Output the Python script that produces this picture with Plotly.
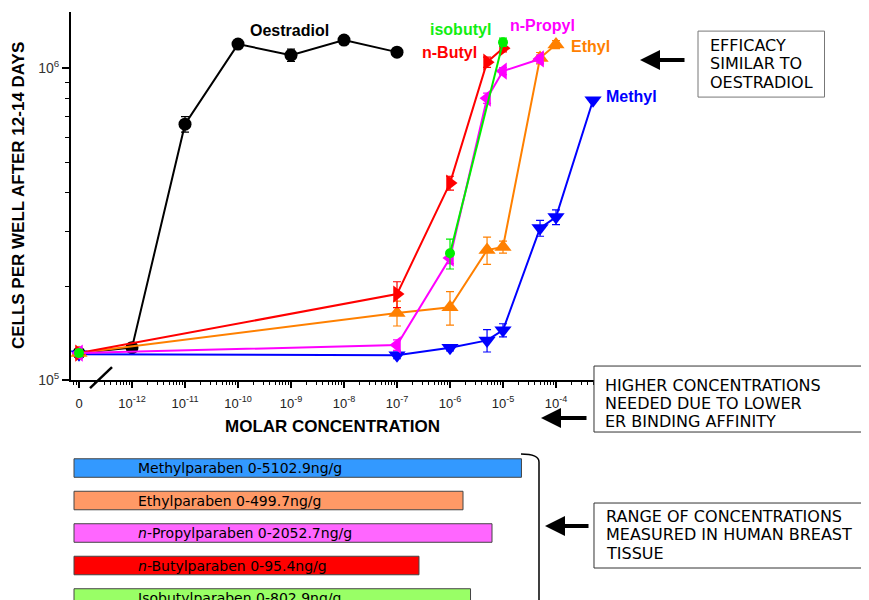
import plotly.graph_objects as go

W, H = 869, 600
PAGE_OFF = 8          # page margin around the figure
PAGE_H = H + PAGE_OFF  # photographed page height (scaled into the 600px picture)


def px(x):
    return (x - PAGE_OFF) / W


def sy(y):
    return y * PAGE_H / H - PAGE_OFF


def py(y):
    return 1 - sy(y) / H


ZERO = 1e-13  # axis position that stands for the "0" (vehicle) dose

# ---------------- data ----------------
x_tick_vals = [1e-13, 1e-12, 1e-11, 1e-10, 1e-9, 1e-8, 1e-7, 1e-6, 1e-5, 1e-4]
x_tick_text = ["0", "10<sup>-12</sup>", "10<sup>-11</sup>", "10<sup>-10</sup>", "10<sup>-9</sup>",
               "10<sup>-8</sup>", "10<sup>-7</sup>", "10<sup>-6</sup>", "10<sup>-5</sup>", "10<sup>-4</sup>"]
y_tick_vals = [1e5, 1e6]
y_tick_text = ["10<sup>5</sup>", "10<sup>6</sup>"]

oest_x = [ZERO, 1e-12, 1e-11, 1e-10, 1e-9, 1e-8, 1e-7]
oest_y = [1.22e5, 1.27e5, 6.61e5, 1.194e6, 1.10e6, 1.23e6, 1.125e6]
oest_err = [3e3, 4e3, 3.8e4, 2.5e4, 5e4, 2e4, 2e4]

methyl_x = [ZERO, 1e-7, 1e-6, 5e-6, 1e-5, 5e-5, 1e-4, 5e-4]
methyl_y = [1.21e5, 1.20e5, 1.27e5, 1.34e5, 1.445e5, 3.07e5, 3.33e5, 7.89e5]
methyl_err = [3e3, 3e3, 3e3, 1.1e4, 7e3, 1.8e4, 1.8e4, 1e4]

ethyl_x = [ZERO, 1e-7, 1e-6, 5e-6, 1e-5, 5e-5, 1e-4]
ethyl_y = [1.22e5, 1.64e5, 1.71e5, 2.61e5, 2.67e5, 1.077e6, 1.19e6]
ethyl_err = [3e3, 1.5e4, 2.1e4, 2.6e4, 1.2e4, 4.5e4, 3.5e4]

propyl_x = [ZERO, 1e-7, 1e-6, 5e-6, 1e-5, 5e-5]
propyl_y = [1.22e5, 1.295e5, 2.46e5, 8.01e5, 9.78e5, 1.07e6]
propyl_err = [3e3, 5e3, 1e4, 3e4, 2.5e4, 3e4]

butyl_x = [ZERO, 1e-7, 1e-6, 5e-6, 1e-5]
butyl_y = [1.22e5, 1.886e5, 4.28e5, 1.045e6, 1.158e6]
butyl_err = [3e3, 1.8e4, 2.2e4, 4e4, 3e4]

isobutyl_x = [ZERO, 1e-6, 1e-5]
isobutyl_y = [1.22e5, 2.55e5, 1.21e6]
isobutyl_err = [3e3, 2.8e4, 3.7e4]

# tissue concentration ranges (molar equivalents on the same x axis)
bar_names = ["Methylparaben", "Ethylparaben", "n-Propylparaben", "n-Butylparaben", "Isobutylparaben"]
bar_labels = ["Methylparaben 0-5102.9ng/g", "Ethylparaben 0-499.7ng/g",
              "<i>n</i>-Propylparaben 0-2052.7ng/g", "<i>n</i>-Butylparaben 0-95.4ng/g",
              "Isobutylparaben 0-802.9ng/g"]
bar_start = 8.05e-14
bar_end = [2.23e-5, 1.76e-6, 6.2e-6, 2.6e-7, 2.44e-6]
bar_colors = ["#3399ff", "#ff9966", "#ff66ff", "#ff0000", "#99ff66"]

# ---------------- figure ----------------
fig = go.Figure()


def add_series(xs, ys, err, color, symbol, size, line_from=0):
    if line_from > 0:
        fig.add_trace(go.Scatter(
            x=xs[line_from:], y=ys[line_from:], mode="lines",
            line=dict(color=color, width=2), showlegend=False, hoverinfo="skip",
            xaxis="x", yaxis="y"))
    fig.add_trace(go.Scatter(
        x=xs, y=ys, mode="markers" if line_from > 0 else "lines+markers",
        line=dict(color=color, width=2),
        marker=dict(symbol=symbol, size=size, color=color, line=dict(width=0)),
        error_y=dict(type="data", array=err, color=color, thickness=1.2, width=4, visible=True),
        showlegend=False, xaxis="x", yaxis="y", cliponaxis=False,
    ))


add_series(oest_x, oest_y, oest_err, "#000000", "circle", 13)
add_series(methyl_x, methyl_y, methyl_err, "#0000ff", "triangle-down", 15)
add_series(ethyl_x, ethyl_y, ethyl_err, "#ff8000", "triangle-up", 15)
add_series(butyl_x, butyl_y, butyl_err, "#ff0000", "triangle-right", 15)
add_series(propyl_x, propyl_y, propyl_err, "#ff00ff", "triangle-left", 15)
add_series(isobutyl_x, isobutyl_y, isobutyl_err, "#00ee00", "circle", 10, line_from=1)

fig.add_trace(go.Bar(
    orientation="h", y=bar_names, x=[e - bar_start for e in bar_end], base=bar_start,
    marker=dict(color=bar_colors, line=dict(color="#444444", width=1)),
    width=0.57, xaxis="x", yaxis="y2", showlegend=False, hoverinfo="skip",
))

x_minor = [k * 10.0 ** e for e in range(-14, -3) for k in range(2, 10)]
y_minor = [k * 1e5 for k in range(2, 10)]

# bar rows: first centred at 468px, last at 598px of the picture
row_step = (sy(598) - sy(468)) / 4
row_top = sy(468) - row_step / 2
row_bottom_idx = -0.5 + (H - row_top) / row_step

fig.update_layout(
    width=W, height=H, margin=dict(l=0, r=0, t=0, b=0),
    paper_bgcolor="white", plot_bgcolor="rgba(0,0,0,0)",
    showlegend=False,
    xaxis=dict(
        type="log", range=[-13.151, -3.283], domain=[px(71), px(594)], anchor="y",
        showline=True, linecolor="black", linewidth=2, mirror=False,
        showgrid=False, zeroline=False,
        tickmode="array", tickvals=x_tick_vals, ticktext=x_tick_text,
        ticks="outside", ticklen=6, tickwidth=1.5, tickcolor="black",
        ticklabelstandoff=4,
        tickfont=dict(family="Liberation Sans, Arial", size=13, color="#222222"),
        minor=dict(tickmode="array", tickvals=x_minor, ticks="outside", ticklen=3,
                   tickwidth=1, tickcolor="black", showgrid=False),
    ),
    yaxis=dict(
        type="log", range=[5, 6.1795], domain=[py(380), py(12)], anchor="x",
        showline=True, linecolor="black", linewidth=2,
        showgrid=False, zeroline=False,
        tickmode="array", tickvals=y_tick_vals, ticktext=y_tick_text,
        ticks="outside", ticklen=7, tickwidth=1.5, tickcolor="black",
        tickfont=dict(family="Liberation Sans, Arial", size=14, color="#333333"),
        minor=dict(tickmode="array", tickvals=y_minor, ticks="outside", ticklen=4,
                   tickwidth=1, tickcolor="black", showgrid=False),
    ),
    yaxis2=dict(
        type="category", domain=[0, 1 - row_top / H], range=[row_bottom_idx, -0.5],
        anchor="free", position=0, visible=False, showgrid=False,
        categoryorder="array", categoryarray=bar_names,
    ),
)

bold = dict(family="Liberation Sans, Arial", size=17, color="black")
ann = [
    dict(text="<b>MOLAR CONCENTRATION</b>", x=px(332), y=py(426), font=bold),
    dict(text="<b>CELLS PER WELL AFTER 12-14 DAYS</b>", x=px(18), y=py(196), font=bold, textangle=-90),
]

labels = [
    ("Oestradiol", 289, 30, "#000000"),
    ("isobutyl", 460, 29, "#11ee11"),
    ("n-Propyl", 542, 25, "#ff00ff"),
    ("n-Butyl", 449.5, 52, "#ff0000"),
    ("Ethyl", 590.5, 46, "#ff8000"),
    ("Methyl", 631.5, 96, "#0000ff"),
]
for t, x, y, c in labels:
    ann.append(dict(text="<b>%s</b>" % t, x=px(x), y=py(y),
                    font=dict(family="Liberation Sans, Arial", size=16, color=c)))

note_font = dict(family="DejaVu Sans", size=16, color="black")
notes = [
    (708, [45, 63.5, 82], ["EFFICACY", "SIMILAR TO", "OESTRADIOL"]),
    (603, [385, 403, 421], ["HIGHER CONCENTRATIONS", "NEEDED DUE TO LOWER", "ER BINDING AFFINITY"]),
    (604, [516, 534.5, 553], ["RANGE OF CONCENTRATIONS", "MEASURED IN HUMAN BREAST", "TISSUE"]),
]
for x, ys, lines in notes:
    for y, line in zip(ys, lines):
        ann.append(dict(text=line, x=px(x), y=py(y), xanchor="left", font=note_font))

for name, lab in zip(bar_names, bar_labels):
    ann.append(dict(text=lab, x=px(136), xref="paper", xanchor="left", y=name, yref="y2",
                    showarrow=False, font=dict(family="DejaVu Sans", size=14, color="black")))

for tipx, tipy, tailx in [(640, 60, 686), (541, 418, 588), (545, 526, 590)]:
    ann.append(dict(text="", x=px(tipx), y=py(tipy), xref="paper", yref="paper",
                    showarrow=True, ax=tailx - tipx, ay=0, arrowhead=2, arrowsize=1,
                    arrowwidth=4, arrowcolor="black", standoff=0))

for a in ann:
    a.setdefault("xref", "paper")
    a.setdefault("yref", "paper")
    a.setdefault("showarrow", False)
    a.setdefault("xanchor", "center")
    a.setdefault("yanchor", "middle")
fig.update_layout(annotations=ann)


def open_box(x0, y0, y1, x_end=880):
    return dict(type="path", xref="paper", yref="paper",
                path="M %f,%f L %f,%f L %f,%f L %f,%f" % (px(x_end), py(y0), px(x0), py(y0),
                                                         px(x0), py(y1), px(x_end), py(y1)),
                line=dict(color="#333333", width=1))


shapes = [
    dict(type="rect", xref="paper", yref="paper", x0=px(698), x1=px(824.5), y0=py(31), y1=py(97),
         line=dict(color="#777777", width=1)),
    open_box(594, 366, 432),
    open_box(594, 503, 568),
    dict(type="line", xref="paper", yref="paper", x0=px(90), x1=px(112), y0=py(388), y1=py(367),
         line=dict(color="black", width=2.5)),
    dict(type="path", xref="paper", yref="paper",
         path="M %f,%f Q %f,%f %f,%f L %f,%f" % (px(521), py(454), px(539), py(454),
                                                 px(539), py(462), px(539), py(640)),
         line=dict(color="black", width=1.5)),
]
fig.update_layout(shapes=shapes)

fig.write_html("out.html", config={"displayModeBar": False},
               post_script="document.documentElement.style.overflow='hidden';")
